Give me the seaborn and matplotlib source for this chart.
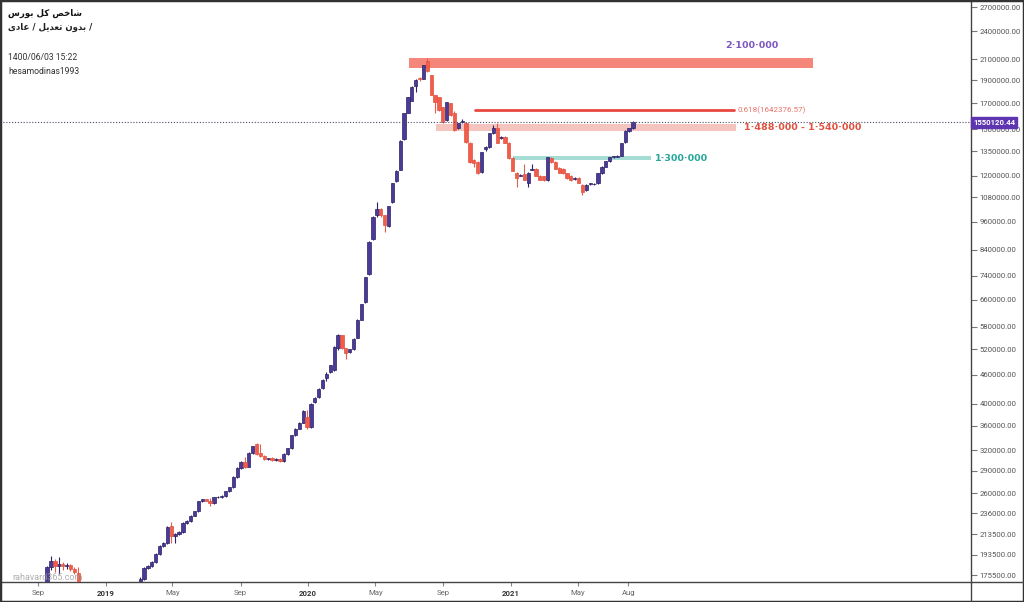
import numpy as np
import pandas as pd
import matplotlib
matplotlib.use("Agg")
import matplotlib.pyplot as plt
import matplotlib.dates as mdates
from matplotlib.ticker import FixedLocator, FuncFormatter, NullLocator
from matplotlib.patches import Rectangle
from matplotlib.lines import Line2D
import seaborn as sns

# ---------------- data (weekly candles, values in thousands) ----------------
start_date = "2018-09-17"
opens = [170, 182, 188, 183, 185, 183, 184, 181, 177, 166, 162, 158, 160, 156, 155, 158, 157, 160, 159, 161,
         160, 162, 164, 165, 168.5, 172.5, 181.5, 183.3, 186.8, 194.5, 202, 205, 222, 211.5, 213.5, 215.6, 225, 227.5, 233.7, 238.3,
         250, 252.5, 251, 248, 255, 255.5, 256.5, 262.5, 267.5, 281, 294, 302.7, 295.6, 315.4, 329, 315, 311, 306.5, 308, 305,
         307, 304, 314, 323, 344, 355, 365, 376, 358, 404, 413, 431, 453, 467, 470, 522, 556, 522, 514, 520,
         550, 600, 653, 747, 885, 993, 1022, 990, 942, 1054, 1171, 1235, 1430, 1625, 1720, 1845, 1920, 1910, 2080, 1946,
         1768, 1750, 1668, 1565, 1700, 1625, 1505, 1550, 1545, 1403, 1290, 1280, 1218, 1365, 1375, 1472, 1510, 1440, 1445, 1405,
         1305, 1215, 1200, 1210, 1160, 1235, 1240, 1200, 1195, 1175, 1305, 1280, 1245, 1240, 1212, 1200, 1180, 1188, 1149, 1120,
         1150, 1150, 1155, 1212, 1253, 1286, 1311, 1315, 1320, 1410, 1485, 1506]
highs = [183, 192, 190, 191, 187, 186, 185, 182, 182, 167, 163, 161, 161, 157, 159, 159, 161, 161, 162, 162,
         163, 165, 166, 167, 173.5, 182.5, 184.5, 188, 195.5, 203, 206, 222, 227, 214.5, 216.5, 226, 228.5, 234.5, 239, 251,
         253.5, 253.5, 254, 256, 256.5, 257.5, 263.5, 268.5, 282, 295, 303.5, 309, 316.5, 327, 331, 330, 312, 308.5, 309, 308,
         308, 315, 324, 345, 356, 366, 388, 388, 401, 413, 431, 450, 466, 483, 528, 560, 558, 524, 521, 549,
         601, 648, 737, 875, 986, 1054, 1025, 993, 1036, 1160, 1232, 1425, 1622, 1755, 1842, 1905, 1925, 2045, 2110, 1950,
         1772, 1755, 1672, 1712, 1705, 1635, 1548, 1575, 1550, 1408, 1300, 1285, 1346, 1385, 1475, 1530, 1545, 1450, 1450, 1410,
         1310, 1220, 1210, 1270, 1222, 1270, 1244, 1205, 1200, 1315, 1310, 1284, 1249, 1244, 1216, 1204, 1190, 1192, 1153, 1152,
         1158, 1156, 1215, 1256, 1288, 1313, 1318, 1323, 1406, 1492, 1508, 1560]
lows = [168, 180, 178, 176, 180, 181, 179, 176, 164, 160, 157, 156, 155, 153, 154, 155, 156, 157, 158, 158,
        159, 161, 163, 164, 165, 171, 180.5, 182.5, 186, 193.5, 201, 204, 205, 205, 212.5, 215, 224, 226.5, 233, 237.5,
        249, 250, 245, 247, 254, 254.5, 256, 261.5, 267, 280, 293, 294, 294.5, 314.5, 313, 309, 305, 305.5, 304, 304,
        303, 303, 313, 322, 343, 354, 364, 355, 356, 402, 412, 430, 447, 465, 468, 518, 520, 496, 510, 518,
        548, 598, 650, 745, 880, 985, 985, 915, 938, 1050, 1165, 1230, 1425, 1620, 1715, 1790, 1890, 1905, 1975, 1765,
        1620, 1640, 1545, 1560, 1598, 1485, 1500, 1545, 1400, 1275, 1250, 1210, 1212, 1350, 1370, 1468, 1400, 1430, 1400, 1300,
        1225, 1133, 1195, 1172, 1133, 1230, 1195, 1172, 1168, 1170, 1275, 1238, 1212, 1208, 1180, 1168, 1175, 1155, 1095, 1115,
        1145, 1146, 1150, 1208, 1250, 1283, 1308, 1312, 1318, 1406, 1482, 1503]
closes = [182, 188, 183, 185, 183, 184, 181, 178, 166, 162, 158, 160, 156, 155, 158, 157, 160, 159, 161, 160,
          162, 164, 165, 166, 172.5, 181.5, 183.3, 186.8, 194.5, 202, 205, 221, 211.5, 213.5, 215.6, 225, 227.5, 233.7, 238.3, 250,
          252.5, 251, 248, 255, 255.5, 256.5, 262.5, 267.5, 281, 294, 302.7, 295.6, 315.4, 326.2, 314, 311, 306.5, 307.5, 305, 307,
          304, 314, 323, 344, 355, 365, 387, 358, 400, 411, 430, 449, 461, 482, 525, 556, 523, 512, 520, 547,
          600, 647, 735, 873, 983, 1022, 990, 946, 1034, 1155, 1229, 1420, 1619, 1750, 1837, 1900, 1910, 2040, 1982, 1768,
          1708, 1644, 1550, 1708, 1603, 1491, 1545, 1560, 1410, 1280, 1275, 1217, 1343, 1375, 1472, 1506, 1403, 1445, 1405, 1305,
          1229, 1183, 1205, 1177, 1217, 1240, 1200, 1177, 1172, 1311, 1280, 1241, 1217, 1212, 1183, 1172, 1185, 1160, 1110, 1149,
          1155, 1152, 1212, 1253, 1286, 1311, 1315, 1320, 1403, 1490, 1506, 1550.12044]

y_ticks = [175500, 193500, 213500, 236000, 260000, 290000, 320000, 360000, 400000, 460000, 520000, 580000,
           660000, 740000, 840000, 960000, 1080000, 1200000, 1350000, 1500000, 1700000, 1900000, 2100000,
           2400000, 2700000]
x_tick_dates = ["2018-09-01", "2019-01-01", "2019-05-01", "2019-09-01", "2020-01-01", "2020-05-01",
                "2020-09-01", "2021-01-01", "2021-05-01", "2021-08-01"]
x_tick_labels = ["Sep", "2019", "May", "Sep", "2020", "May", "Sep", "2021", "May", "Aug"]

last_price = 1550120.44
band_2100 = (2015000, 2110000)
fib_618 = 1642376.57
band_resist = (1488000, 1540000)
band_support = (1290000, 1318000)

# ---------------- figure ----------------
sns.set_theme(style="white")
plt.rcParams["font.family"] = ["Roboto", "DejaVu Sans"]

W, H = 1024, 602
fig = plt.figure(figsize=(W / 100, H / 100), dpi=100)
ax_right = 971 / W
ax_bottom = 1 - 582 / H
ax = fig.add_axes([0.0, ax_bottom, ax_right, 1 - ax_bottom])
ax.set_facecolor("white")

dates = pd.date_range(start_date, periods=len(opens), freq="7D")
xnum = mdates.date2num(dates.to_pydatetime())
o = np.array(opens) * 1000
h = np.array(highs) * 1000
l = np.array(lows) * 1000
c = np.array(closes) * 1000
up = c >= o

body_up, edge_up = "#4B3B96", "#2C2168"
body_dn, edge_dn = "#F05E4B", "#E2503E"

# wicks
ax.vlines(xnum[up], l[up], h[up], color=edge_up, lw=0.8, zorder=3)
ax.vlines(xnum[~up], l[~up], h[~up], color="#E0604F", lw=0.8, zorder=3)
# bodies
bot = np.minimum(o, c)
top = np.maximum(o, c)
top = np.maximum(top, bot * 1.004)
ax.bar(xnum[up], top[up] - bot[up], bottom=bot[up], width=5.9, color=body_up,
       edgecolor=edge_up, linewidth=0.5, zorder=4)
ax.bar(xnum[~up], top[~up] - bot[~up], bottom=bot[~up], width=5.9, color=body_dn,
       edgecolor=edge_dn, linewidth=0.5, zorder=4)

# zones
ax.axhspan(band_2100[0], band_2100[1], xmin=409 / 971, xmax=813 / 971, color="#F4867A", zorder=2, lw=0)
ax.axhline(fib_618, xmin=475 / 971, xmax=734 / 971, color="#E8473F", lw=2, zorder=2)
ax.axhspan(band_resist[0], band_resist[1], xmin=436 / 971, xmax=736 / 971, color="#F6C4BE", zorder=2, lw=0)
ax.axhspan(band_support[0], band_support[1], xmin=513 / 971, xmax=651 / 971, color="#A5DCD4", zorder=2, lw=0)
ax.axhline(last_price, color="#4A4A66", lw=0.8, ls=(0, (1, 1.6)), zorder=5)

tr = ax.get_yaxis_transform()
ax.text(752 / 971, 2238000, "2·100·000", transform=tr, ha="center", va="center",
        color="#7E57C2", fontsize=6.8, fontweight="bold", family=["DejaVu Sans"])
ax.text(738 / 971, fib_618, "0.618(1642376.57)", transform=tr, ha="left", va="center",
        color="#E57368", fontsize=5.8)
ax.text(744 / 971, 1514000, "1·488·000 - 1·540·000", transform=tr, ha="left", va="center",
        color="#E0513F", fontsize=6.8, fontweight="bold", family=["DejaVu Sans"])
ax.text(655 / 971, 1305000, "1·300·000", transform=tr, ha="left", va="center",
        color="#26A69A", fontsize=6.8, fontweight="bold", family=["DejaVu Sans"])

# axes scales and ticks
ax.set_yscale("log")
ax.set_ylim(169700, 2792500)
ax.set_xlim(mdates.date2num(pd.Timestamp("2018-06-24")), mdates.date2num(pd.Timestamp("2023-04-11")))
ax.yaxis.tick_right()
ax.yaxis.set_major_locator(FixedLocator(y_ticks))
ax.yaxis.set_minor_locator(NullLocator())
ax.yaxis.set_major_formatter(FuncFormatter(lambda v, p: f"{v:.2f}"))
ax.tick_params(axis="y", which="major", right=True, left=False, direction="out", length=4, width=0.8,
               color="#777777", labelsize=5.6, labelcolor="#555555", pad=2)
ax.xaxis.set_major_locator(FixedLocator(mdates.date2num(pd.to_datetime(x_tick_dates).to_pydatetime())))
ax.xaxis.set_minor_locator(NullLocator())
ax.set_xticklabels(x_tick_labels)
ax.tick_params(axis="x", bottom=True, direction="out", length=3, width=0.8, color="#888888",
               labelsize=5.6, labelcolor="#666666", pad=3)
for lab in ax.get_xticklabels():
    if lab.get_text().isdigit():
        lab.set_color("#333333")
        lab.set_fontweight("bold")
ax.grid(False)
for s in ax.spines.values():
    s.set_color("#444444")
    s.set_linewidth(1.0)

# current price label on the axis
ax.text(1.002, last_price, "1550120.44", transform=tr, ha="left", va="center", color="white",
        fontsize=5.6, fontweight="bold", zorder=10, clip_on=False,
        bbox=dict(boxstyle="square,pad=0.25", fc="#5E35B1", ec="#5E35B1"))

# frame extensions and outer border
fig.add_artist(Line2D([ax_right, 1], [ax_bottom, ax_bottom], transform=fig.transFigure, color="#444444", lw=1.0))
fig.add_artist(Line2D([ax_right, ax_right], [0, ax_bottom], transform=fig.transFigure, color="#444444", lw=1.0))
fig.add_artist(Rectangle((0, 0), 1, 1, transform=fig.transFigure, fill=False, ec="#333333", lw=2.5))

# header texts
fig.text(8 / W, 1 - 13 / H, "ﺱﺭﻮﺑ ﻞﻛ ﺺﺧﺎﺷ", ha="left", va="center", fontsize=6.2,
         fontweight="bold", color="#111111", family=["DejaVu Sans"])
fig.text(8 / W, 1 - 27 / H, "ﻯﺩﺎﻋ / ﻞﻳﺪﻌﺗ ﻥﻭﺪﺑ /", ha="left", va="center", fontsize=6.2,
         fontweight="bold", color="#222222", family=["DejaVu Sans"])
fig.text(8 / W, 1 - 57 / H, "1400/06/03 15:22", ha="left", va="center", fontsize=6.2, color="#333333")
fig.text(8 / W, 1 - 71 / H, "hesamodinas1993", ha="left", va="center", fontsize=6.2, color="#333333")

# watermark
fig.text(12 / W, 1 - 577 / H, "rahavard365.com", ha="left", va="center", fontsize=6.5, color="#9A9A9A", alpha=0.8)

fig.savefig("out.png", dpi=100)
